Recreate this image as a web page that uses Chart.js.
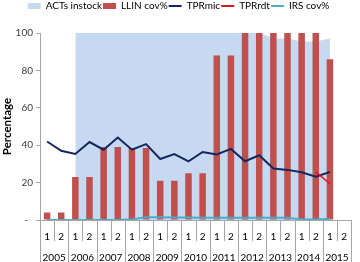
<!DOCTYPE html>
<html>
<head>
<meta charset="utf-8">
<script src="https://cdn.jsdelivr.net/npm/chart.js@4.4.1/dist/chart.umd.min.js"></script>
<style>
  html, body { margin: 0; padding: 0; background: #fff; }
  #wrap { width: 360px; height: 262px; }
</style>
</head>
<body>
<div id="wrap"><canvas id="chart" width="360" height="262"></canvas></div>
<script>
'use strict';

// half-year categories, 2005-2015
const halves = ['1','2','1','2','1','2','1','2','1','2','1','2','1','2','1','2','1','2','1','2','1','2'];
const years = ['2005','2006','2007','2008','2009','2010','2011','2012','2013','2014','2015'];

const actsInstock = [null, null, 100, 100, 100, 100, 100, 100, 100, 100, 100, 100, 100, 100, 100, 100, 97, 97, 95.5, 95.5, 97, null];
const llinCov = [4, 4, 23, 23, 39, 39, 38.5, 38.5, 21, 21, 25, 25, 88, 88, 100, 100, 100, 100, 100, 100, 86, null];
const tprMic = [42, 37, 35.3, 41.7, 37.6, 44.1, 37.6, 40.6, 32.6, 35.3, 31.4, 36.4, 35, 38, 31.4, 34.6, 27.5, 26.8, 25.5, 23.2, 25.7, null];
const tprRdt = [null, null, null, null, null, null, null, null, null, null, null, null, null, null, null, null, null, null, null, 25.7, 19.4, null];
const irsCov = [0, 0, 0, 0, 0, 0, 0.3, 1.5, 1.5, 1.3, 1.3, 1.2, 1.2, 1.2, 1.2, 1.2, 1.2, 1.2, 0.3, 0.3, 0.5, null];

const AXIS_GRAY = '#A6A6A6';
Chart.defaults.font.family = 'Lato, "Open Sans", sans-serif';
Chart.defaults.font.size = 9.5;
Chart.defaults.color = '#404040';

// push the plot down a bit below the legend
const legendGap = {
  id: 'legendGap',
  beforeInit(chart) {
    const fit = chart.legend.fit;
    chart.legend.fit = function () {
      fit.call(this);
      this.height += 12;
    };
  }
};

// excel style separators between the category cells under the plot
const catDividers = {
  id: 'catDividers',
  afterDraw(chart) {
    const { ctx } = chart;
    const x = chart.scales.x;
    const half = (x.getPixelForValue(1) - x.getPixelForValue(0)) / 2;
    ctx.save();
    ctx.strokeStyle = AXIS_GRAY;
    ctx.lineWidth = 1;
    for (let i = 0; i <= halves.length; i++) {
      const px = Math.round(x.getPixelForValue(i) - half) + 0.5;
      ctx.beginPath();
      ctx.moveTo(px, x.top);
      ctx.lineTo(px, i % 2 === 0 ? chart.height : x.bottom);
      ctx.stroke();
    }
    ctx.restore();
  }
};

const datasets = [
  { type: 'line', label: 'ACTs instock', data: actsInstock, fill: 'origin', backgroundColor: '#C6D9F1',
    borderColor: 'rgba(0,0,0,0)', borderWidth: 0, pointRadius: 0, order: 5, key: '#C6D9F1', mark: 'rect' },
  { type: 'bar', label: 'LLIN cov%', data: llinCov, backgroundColor: '#C0504D', borderWidth: 0,
    barPercentage: 0.46, categoryPercentage: 1, order: 4, key: '#C0504D', mark: 'rect' },
  { type: 'line', label: 'TPRmic', data: tprMic, borderColor: '#14275F', borderWidth: 2, pointRadius: 0,
    fill: false, order: 3, key: '#14275F', mark: 'line' },
  { type: 'line', label: 'TPRrdt', data: tprRdt, borderColor: '#E0141B', borderWidth: 1.5, pointRadius: 0,
    fill: false, order: 2, key: '#E0141B', mark: 'line' },
  { type: 'line', label: 'IRS cov%', data: irsCov, borderColor: '#4BACC6', borderWidth: 2, pointRadius: 0,
    fill: false, order: 1, key: '#4BACC6', mark: 'line' },
];

new Chart(document.getElementById('chart'), {
  type: 'bar',
  data: { labels: halves, datasets },
  plugins: [legendGap, catDividers],
  options: {
    responsive: false,
    animation: false,
    devicePixelRatio: 1,
    layout: { padding: { left: 0, right: 3, top: 0, bottom: 0 } },
    plugins: {
      tooltip: { enabled: false },
      legend: {
        position: 'top',
        labels: {
          usePointStyle: true,
          pointStyleWidth: 13,
          boxHeight: 6,
          padding: 1,
          color: '#000',
          font: { size: 10 },
          generateLabels: chart => chart.data.datasets.map((ds, i) => ({
            text: ds.label,
            datasetIndex: i,
            hidden: false,
            fillStyle: ds.key,
            strokeStyle: ds.key,
            lineWidth: ds.mark === 'line' ? 2 : 0,
            pointStyle: ds.mark,
            fontColor: '#000'
          }))
        }
      }
    },
    scales: {
      x: {
        type: 'category',
        offset: true,
        grid: { offset: true, drawOnChartArea: false, drawTicks: false, color: AXIS_GRAY },
        border: { color: AXIS_GRAY },
        ticks: { padding: 11, color: '#000', font: { size: 10 }, maxRotation: 0, autoSkip: false },
        afterFit: s => { s.height = 21; }
      },
      x2: {
        type: 'category',
        labels: years,
        position: 'bottom',
        offset: true,
        grid: { display: false, drawTicks: false },
        border: { display: false },
        ticks: { padding: 11, color: '#000', font: { size: 10 }, maxRotation: 0, autoSkip: false },
        afterFit: s => { s.height = 21; }
      },
      y: {
        min: 0,
        max: 100,
        ticks: { stepSize: 20, padding: 3, color: '#404040', font: { size: 10 }, callback: v => v === 0 ? '-  ' : v },
        grid: { drawOnChartArea: false, tickLength: 4, color: AXIS_GRAY },
        border: { color: AXIS_GRAY },
        title: { display: true, text: 'Percentage', color: '#000', font: { size: 11.5, weight: 'bold' }, padding: { top: 0, bottom: 0 } },
        afterFit: s => { s.width = 40; }
      }
    }
  }
});
</script>
</body>
</html>
